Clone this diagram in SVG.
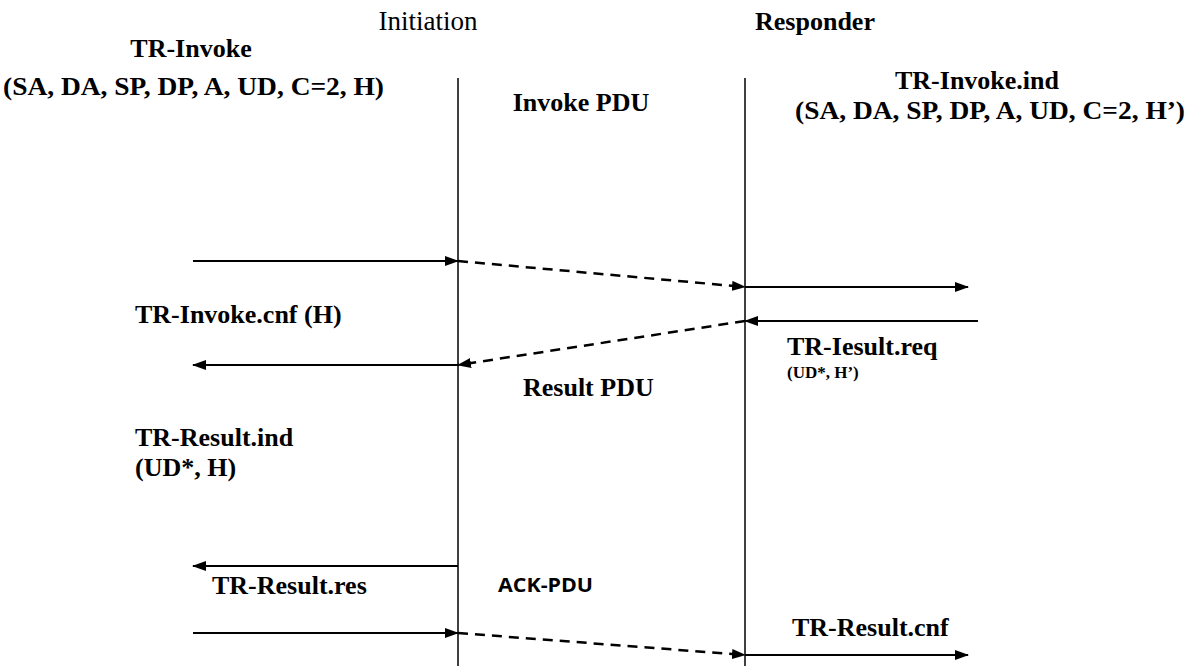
<svg xmlns="http://www.w3.org/2000/svg" width="1191" height="666" viewBox="0 0 1191 666">
<defs>
<marker id="ah" markerWidth="14" markerHeight="10" refX="13" refY="5" orient="auto" markerUnits="userSpaceOnUse">
<path d="M0,0 L14,5 L0,10 Z" fill="#000"/>
</marker>
<style>
.t{font-family:"Liberation Serif","Times New Roman",serif;font-size:26px;font-weight:bold;fill:#000}
.r{font-weight:normal;font-size:27px}
.s{font-size:17px}
.a{font-family:"Open Sans","Noto Sans",sans-serif;font-size:19px;font-weight:bold;fill:#000}
.l{stroke:#000;stroke-width:2;fill:none}
.d{stroke:#000;stroke-width:2.5;fill:none;stroke-dasharray:10,7}
.v{stroke:#000;stroke-width:1.5;fill:none}
</style>
</defs>
<rect width="1191" height="666" fill="#fff"/>
<g id="lifelines">
<line class="v" x1="458" y1="78" x2="458" y2="666"/>
<line class="v" x1="745" y1="78" x2="745" y2="666"/>
</g>
<g id="labels">
<text class="t r" x="428" y="30" text-anchor="middle">Initiation</text>
<text class="t" x="815" y="30" text-anchor="middle">Responder</text>
<text class="t" x="191" y="57" text-anchor="middle">TR-Invoke</text>
<text class="t" x="3" y="95" textLength="381" lengthAdjust="spacingAndGlyphs">(SA, DA, SP, DP, A, UD, C=2, H)</text>
<text class="t" x="581" y="111" text-anchor="middle">Invoke PDU</text>
<text class="t" x="977" y="89" text-anchor="middle">TR-Invoke.ind</text>
<text class="t" x="795" y="119" textLength="390" lengthAdjust="spacingAndGlyphs">(SA, DA, SP, DP, A, UD, C=2, H’)</text>
<text class="t" x="135" y="323">TR-Invoke.cnf (H)</text>
<text class="t" x="787" y="355">TR-Iesult.req</text>
<text class="t s" x="787" y="378">(UD*, H’)</text>
<text class="t" x="523" y="396">Result PDU</text>
<text class="t" x="135" y="446">TR-Result.ind</text>
<text class="t" x="135" y="476">(UD*, H)</text>
<text class="t" x="212" y="594">TR-Result.res</text>
<text class="a" x="498" y="592" textLength="95" lengthAdjust="spacingAndGlyphs">ACK-PDU</text>
<text class="t" x="792" y="636">TR-Result.cnf</text>
</g>
<g id="connectors">
<line class="l" x1="193" y1="261" x2="458" y2="261" marker-end="url(#ah)"/>
<line class="d" x1="458" y1="261" x2="745" y2="287" marker-end="url(#ah)"/>
<line class="l" x1="745" y1="287" x2="968" y2="287" marker-end="url(#ah)"/>
<line class="l" x1="978" y1="321" x2="745" y2="321" marker-end="url(#ah)"/>
<line class="d" x1="745" y1="321" x2="458" y2="365" marker-end="url(#ah)"/>
<line class="l" x1="458" y1="365" x2="193" y2="365" marker-end="url(#ah)"/>
<line class="l" x1="458" y1="566" x2="193" y2="566" marker-end="url(#ah)"/>
<line class="l" x1="193" y1="633" x2="458" y2="633" marker-end="url(#ah)"/>
<line class="d" x1="458" y1="633" x2="745" y2="655" marker-end="url(#ah)"/>
<line class="l" x1="745" y1="655" x2="968" y2="655" marker-end="url(#ah)"/>
</g>
</svg>
